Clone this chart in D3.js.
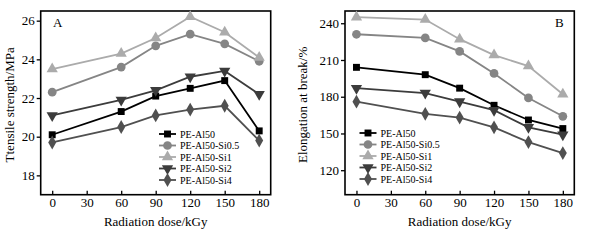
<!DOCTYPE html>
<html>
<head>
<meta charset="utf-8">
<script src="https://cdn.jsdelivr.net/npm/d3@7"></script>
<style>
  body { margin: 0; background: #fff; }
  svg text { font-family: "Liberation Serif", "DejaVu Serif", serif; }
</style>
</head>
<body>
<svg id="chart" width="593" height="240"></svg>
<script>
// Data
const doses = [0, 60, 90, 120, 150, 180];
const seriesNames = ['PE-Al50', 'PE-Al50-Si0.5', 'PE-Al50-Si1', 'PE-Al50-Si2', 'PE-Al50-Si4'];

const tensileAl50 = [20.1, 21.3, 22.1, 22.5, 22.9, 20.3];
const tensileSi05 = [22.3, 23.6, 24.7, 25.3, 24.8, 23.9];
const tensileSi1  = [23.5, 24.3, 25.1, 26.2, 25.4, 24.1];
const tensileSi2  = [21.1, 21.9, 22.4, 23.1, 23.4, 22.2];
const tensileSi4  = [19.7, 20.5, 21.1, 21.4, 21.6, 19.8];

const elongAl50 = [204, 198, 187, 173, 161, 154];
const elongSi05 = [231, 228, 217, 199, 179, 164];
const elongSi1  = [245, 243, 227, 214, 205, 182];
const elongSi2  = [187, 183, 176, 169, 155, 149];
const elongSi4  = [176, 166, 163, 155, 143, 134];

const xTicks = [0, 30, 60, 90, 120, 150, 180];
const tensileTicks = [18, 20, 22, 24, 26];
const elongTicks = [120, 150, 180, 210, 240];

// Styles per series
const colors = ['#000000', '#858585', '#ababab', '#3c3c3c', '#505050'];
const symbols = [d3.symbolSquare, d3.symbolCircle, d3.symbolTriangle, d3.symbolTriangle, d3.symbolDiamond];
const symbolSizes = [48, 60, 55, 55, 55];
const symbolRotate = [0, 0, 0, 180, 0];

const svg = d3.select('#chart');

function drawPanel(opts) {
  const g = svg.append('g');
  const xScale = d3.scaleLinear().domain([-10, 190]).range([opts.left, opts.right]);
  const yScale = d3.scaleLinear().domain(opts.yDomain).range([opts.bottom, opts.top]);

  // frame
  g.append('rect')
    .attr('x', opts.left).attr('y', opts.top)
    .attr('width', opts.right - opts.left).attr('height', opts.bottom - opts.top)
    .attr('fill', 'none').attr('stroke', '#000').attr('stroke-width', 1.6);

  // x axis, ticks point inward
  const xAxis = d3.axisBottom(xScale).tickValues(xTicks).tickSize(-4).tickPadding(3);
  const gx = g.append('g').attr('transform', `translate(0, ${opts.bottom})`).call(xAxis);
  gx.select('.domain').remove();
  gx.selectAll('line').attr('stroke-width', 1.3);
  gx.selectAll('text').attr('font-size', 13).attr('fill', '#000');

  // y axis, ticks point outward
  const yAxis = d3.axisLeft(yScale).tickValues(opts.yTicks).tickSize(4).tickPadding(2);
  const gy = g.append('g').attr('transform', `translate(${opts.left}, 0)`).call(yAxis);
  gy.select('.domain').remove();
  gy.selectAll('line').attr('stroke-width', 1.3);
  gy.selectAll('text').attr('font-size', 13).attr('fill', '#000');

  // axis titles
  g.append('text')
    .text('Radiation dose/kGy')
    .attr('x', (opts.left + opts.right) / 2).attr('y', 226)
    .attr('text-anchor', 'middle').attr('font-size', 13);
  g.append('text')
    .text(opts.yTitle)
    .attr('text-anchor', 'middle').attr('font-size', 13)
    .attr('transform', `translate(${opts.yTitleX}, ${(opts.top + opts.bottom) / 2 + 2}) rotate(-90)`);

  // panel letter
  g.append('text')
    .text(opts.letter)
    .attr('x', opts.letterX).attr('y', 27)
    .attr('font-size', 13);

  const lineGenerator = d3.line()
    .x((d, i) => xScale(doses[i]))
    .y(d => yScale(d));

  // lines then markers
  opts.series.forEach((values, s) => {
    g.append('path')
      .datum(values)
      .attr('fill', 'none')
      .attr('stroke', colors[s])
      .attr('stroke-width', 1.8)
      .attr('d', lineGenerator);
  });
  opts.series.forEach((values, s) => {
    g.selectAll(null)
      .data(values)
      .join('path')
      .attr('d', d3.symbol().type(symbols[s]).size(symbolSizes[s]))
      .attr('fill', colors[s])
      .attr('transform', (d, i) => `translate(${xScale(doses[i])}, ${yScale(d)}) rotate(${symbolRotate[s]})`);
  });

  // legend
  const legend = g.append('g');
  seriesNames.forEach((name, s) => {
    const y = opts.legendY + s * 11.5;
    legend.append('line')
      .attr('x1', opts.legendX).attr('x2', opts.legendX + 17)
      .attr('y1', y).attr('y2', y)
      .attr('stroke', colors[s]).attr('stroke-width', 1.8);
    legend.append('path')
      .attr('d', d3.symbol().type(symbols[s]).size(symbolSizes[s]))
      .attr('fill', colors[s])
      .attr('transform', `translate(${opts.legendX + 8.5}, ${y}) rotate(${symbolRotate[s]})`);
    legend.append('text')
      .text(name)
      .attr('x', opts.legendX + 21).attr('y', y + 3.5)
      .attr('font-size', 10);
  });
}

drawPanel({
  left: 40.7, right: 270.7, top: 11, bottom: 194.7,
  yDomain: [17, 26.5], yTicks: tensileTicks,
  yTitle: 'Ttensile strength/MPa', yTitleX: 14,
  letter: 'A', letterX: 53,
  series: [tensileAl50, tensileSi05, tensileSi1, tensileSi2, tensileSi4],
  legendX: 159, legendY: 134
});

drawPanel({
  left: 345, right: 574.3, top: 11, bottom: 194.7,
  yDomain: [100, 250], yTicks: elongTicks,
  yTitle: 'Elongation at break/%', yTitleX: 307,
  letter: 'B', letterX: 555,
  series: [elongAl50, elongSi05, elongSi1, elongSi2, elongSi4],
  legendX: 359.5, legendY: 133
});
</script>
</body>
</html>
